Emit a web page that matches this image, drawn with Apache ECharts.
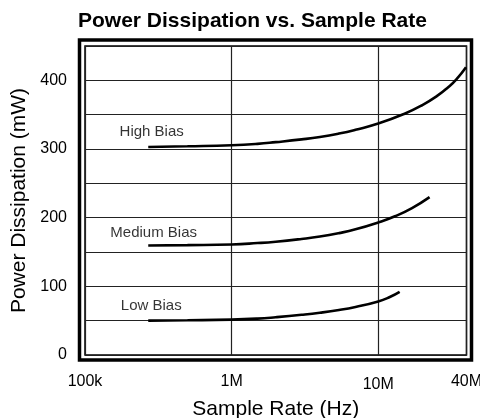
<!DOCTYPE html>
<html>
<head>
<meta charset="utf-8">
<script src="https://cdn.jsdelivr.net/npm/echarts@6/dist/echarts.min.js"></script>
<style>html,body{margin:0;padding:0;background:#fff}#c{width:480px;height:418px}</style>
</head>
<body>
<div id="c"></div>
<script>
// Data (Sample rate in Hz, power in mW)
var highBias = [[2.7e5,303],[5e5,304],[1e6,305.5],[1.5e6,307.5],[2e6,310],[3e6,314],[4e6,317.5],[5.4e6,322.5],[7e6,328],[1e7,337],[1.5e7,351],[2e7,364],[2.55e7,378],[3e7,390],[3.4e7,401],[3.97e7,419]];
var mediumBias = [[2.7e5,159.5],[5e5,160],[1e6,161],[1.5e6,163],[2e6,165],[3e6,169],[4e6,172.5],[5.4e6,177.5],[7e6,183],[1e7,193],[1.3e7,202],[1.7e7,214],[2.24e7,230]];
var lowBias = [[2.7e5,50],[5e5,50.5],[1e6,51.5],[1.5e6,53],[2e6,55],[3e6,58.5],[4e6,61.5],[5.4e6,65.5],[7e6,70],[1e7,78],[1.2e7,84.5],[1.4e7,92]];
var curveLabels = [[2.85e5,325,'High Bias'],[2.94e5,178.5,'Medium Bias'],[2.83e5,71,'Low Bias']];
var xTickValues = [1e5,1e6,1e7,4e7];
var xTickLabels = ['100k','1M','10M','40M'];
var yTickLabels = [0,100,200,300,400];

var chart = echarts.init(document.getElementById('c'), null, {renderer:'canvas'});
var FONT = '"Liberation Sans", Arial, Helvetica, sans-serif';
function lineSeries(d){
  return {type:'line', data:d, smooth:true, showSymbol:false, symbol:'none',
    lineStyle:{color:'#000', width:2.6}, silent:true, z:5};
}
chart.setOption({
  animation:false,
  backgroundColor:'#fff',
  title:{text:'Power Dissipation vs. Sample Rate', left:73, top:6,
    textStyle:{fontFamily:FONT, fontSize:21, fontWeight:'bold', color:'#000'}},
  grid:{left:85, right:13.5, top:46, bottom:63, show:true, borderColor:'#000', borderWidth:1.5,
    containLabel:false, outerBoundsMode:'none'},
  graphic:[{type:'rect', shape:{x:79.5, y:40, width:392, height:320},
    style:{fill:null, stroke:'#000', lineWidth:3.5}, z:10}],
  xAxis:{type:'log', logBase:10, min:1e5, max:4e7,
    axisLine:{show:false}, axisTick:{show:false}, minorTick:{show:false},
    splitLine:{show:true, lineStyle:{color:'#222', width:1.2}},
    axisLabel:{margin:19, fontFamily:FONT, fontSize:16, color:'#000', showMaxLabel:true, showMinLabel:true,
      formatter:function(v){
        for (var i=0;i<xTickValues.length;i++){ if (Math.abs(v-xTickValues[i])/xTickValues[i] < 1e-3) return i===2 ? '{low|'+xTickLabels[i]+'}' : xTickLabels[i]; }
        return '';
      },
      rich:{low:{fontFamily:FONT, fontSize:16, color:'#000', padding:[3,0,0,0]}}},
    name:'Sample Rate (Hz)', nameLocation:'middle', nameGap:44,
    nameTextStyle:{fontFamily:FONT, fontSize:21, color:'#000'}},
  yAxis:{type:'value', min:0, max:450, interval:50,
    axisLine:{show:false}, axisTick:{show:false},
    splitLine:{show:true, lineStyle:{color:'#222', width:1.2}},
    axisLabel:{margin:18, fontFamily:FONT, fontSize:16, color:'#000',
      formatter:function(v){ return yTickLabels.indexOf(v) >= 0 ? String(v) : ''; }},
    name:'Power Dissipation (mW)', nameLocation:'middle', nameGap:52, nameRotate:90,
    nameTextStyle:{fontFamily:FONT, fontSize:21, color:'#000'}},
  series:[
    lineSeries(highBias), lineSeries(mediumBias), lineSeries(lowBias),
    {type:'scatter', data:curveLabels, symbolSize:0, silent:true,
      label:{show:true, position:'inside', fontFamily:FONT, fontSize:15, color:'#000',
        formatter:function(p){ return p.data[2]; }}}
  ]
});
</script>
</body>
</html>
